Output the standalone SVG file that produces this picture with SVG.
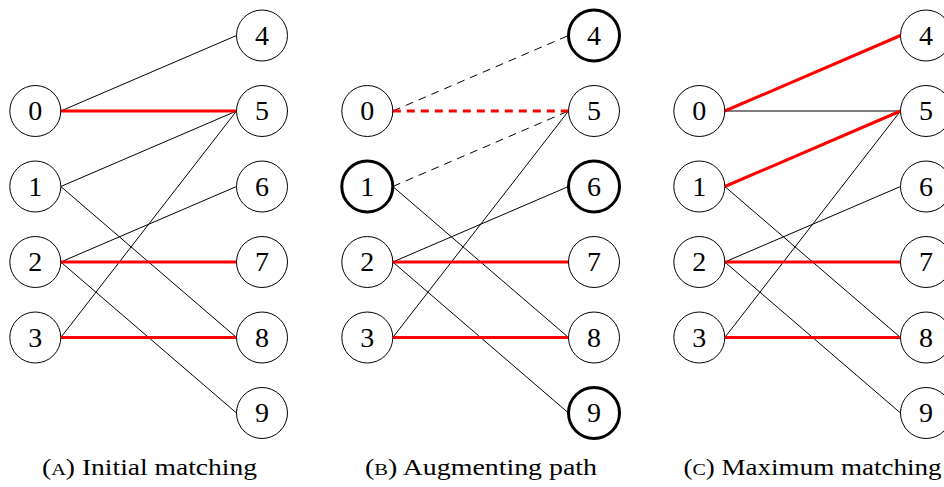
<svg xmlns="http://www.w3.org/2000/svg" width="944" height="487" viewBox="0 0 944 487">
<defs>
<style>
.bg{fill:#ffffff}
.e{stroke:#000;stroke-width:1;fill:none}
.m{stroke:#ff0000;stroke-width:3;fill:none}
.d{stroke-dasharray:8 6}
.n circle{fill:#fff;stroke:#000;stroke-width:1}
.n.t circle{stroke-width:3}
.n text{font-family:"Liberation Serif","DejaVu Serif",serif;font-size:28px;text-anchor:middle;fill:#000}
.cap{font-family:"Liberation Serif","DejaVu Serif",serif;font-size:23px;text-anchor:middle;fill:#000}
.sc{font-size:17px}
</style>
</defs>
<rect class="bg" x="0" y="0" width="944" height="487"/>

<!-- Panel A -->
<g id="panelA">
<g id="A-edges">
<line class="e" x1="60.8" y1="111" x2="236.5" y2="35.5"/>
<line class="e" x1="60.8" y1="186.5" x2="236.5" y2="111"/>
<line class="e" x1="60.8" y1="186.5" x2="236.5" y2="337.5"/>
<line class="e" x1="60.8" y1="262" x2="236.5" y2="186.5"/>
<line class="e" x1="60.8" y1="262" x2="236.5" y2="413"/>
<line class="e" x1="60.8" y1="337.5" x2="236.5" y2="111"/>
<line class="m" x1="60.8" y1="111" x2="236.5" y2="111"/>
<line class="m" x1="60.8" y1="262" x2="236.5" y2="262"/>
<line class="m" x1="60.8" y1="337.5" x2="236.5" y2="337.5"/>
</g>
<g id="A0" class="n"><circle cx="35.3" cy="111" r="25.5"/><text x="35.3" y="120.3">0</text></g>
<g id="A1" class="n"><circle cx="35.3" cy="186.5" r="25.5"/><text x="35.3" y="195.8">1</text></g>
<g id="A2" class="n"><circle cx="35.3" cy="262" r="25.5"/><text x="35.3" y="271.3">2</text></g>
<g id="A3" class="n"><circle cx="35.3" cy="337.5" r="25.5"/><text x="35.3" y="346.8">3</text></g>
<g id="A4" class="n"><circle cx="262" cy="35.5" r="25.5"/><text x="262" y="44.8">4</text></g>
<g id="A5" class="n"><circle cx="262" cy="111" r="25.5"/><text x="262" y="120.3">5</text></g>
<g id="A6" class="n"><circle cx="262" cy="186.5" r="25.5"/><text x="262" y="195.8">6</text></g>
<g id="A7" class="n"><circle cx="262" cy="262" r="25.5"/><text x="262" y="271.3">7</text></g>
<g id="A8" class="n"><circle cx="262" cy="337.5" r="25.5"/><text x="262" y="346.8">8</text></g>
<g id="A9" class="n"><circle cx="262" cy="413" r="25.5"/><text x="262" y="422.3">9</text></g>
<text class="cap" x="149.5" y="475" textLength="215" lengthAdjust="spacingAndGlyphs">(<tspan class="sc">A</tspan>) Initial matching</text>
</g>

<!-- Panel B -->
<g id="panelB" transform="translate(332,0)">
<g id="B-edges">
<line class="e d" x1="60.8" y1="111" x2="236.5" y2="35.5"/>
<line class="e d" x1="60.8" y1="186.5" x2="236.5" y2="111"/>
<line class="e" x1="60.8" y1="186.5" x2="236.5" y2="337.5"/>
<line class="e" x1="60.8" y1="262" x2="236.5" y2="186.5"/>
<line class="e" x1="60.8" y1="262" x2="236.5" y2="413"/>
<line class="e" x1="60.8" y1="337.5" x2="236.5" y2="111"/>
<line class="m d" x1="60.8" y1="111" x2="236.5" y2="111"/>
<line class="m" x1="60.8" y1="262" x2="236.5" y2="262"/>
<line class="m" x1="60.8" y1="337.5" x2="236.5" y2="337.5"/>
</g>
<g id="B0" class="n"><circle cx="35.3" cy="111" r="25.5"/><text x="35.3" y="120.3">0</text></g>
<g id="B1" class="n t"><circle cx="35.3" cy="186.5" r="25.5"/><text x="35.3" y="195.8">1</text></g>
<g id="B2" class="n"><circle cx="35.3" cy="262" r="25.5"/><text x="35.3" y="271.3">2</text></g>
<g id="B3" class="n"><circle cx="35.3" cy="337.5" r="25.5"/><text x="35.3" y="346.8">3</text></g>
<g id="B4" class="n t"><circle cx="262" cy="35.5" r="25.5"/><text x="262" y="44.8">4</text></g>
<g id="B5" class="n"><circle cx="262" cy="111" r="25.5"/><text x="262" y="120.3">5</text></g>
<g id="B6" class="n t"><circle cx="262" cy="186.5" r="25.5"/><text x="262" y="195.8">6</text></g>
<g id="B7" class="n"><circle cx="262" cy="262" r="25.5"/><text x="262" y="271.3">7</text></g>
<g id="B8" class="n"><circle cx="262" cy="337.5" r="25.5"/><text x="262" y="346.8">8</text></g>
<g id="B9" class="n t"><circle cx="262" cy="413" r="25.5"/><text x="262" y="422.3">9</text></g>
<text class="cap" x="149" y="475" textLength="232" lengthAdjust="spacingAndGlyphs">(<tspan class="sc">B</tspan>) Augmenting path</text>
</g>

<!-- Panel C -->
<g id="panelC" transform="translate(664,0)">
<g id="C-edges">
<line class="e" x1="60.8" y1="111" x2="236.5" y2="111"/>
<line class="e" x1="60.8" y1="186.5" x2="236.5" y2="337.5"/>
<line class="e" x1="60.8" y1="262" x2="236.5" y2="186.5"/>
<line class="e" x1="60.8" y1="262" x2="236.5" y2="413"/>
<line class="e" x1="60.8" y1="337.5" x2="236.5" y2="111"/>
<line class="m" x1="60.8" y1="111" x2="236.5" y2="35.5"/>
<line class="m" x1="60.8" y1="186.5" x2="236.5" y2="111"/>
<line class="m" x1="60.8" y1="262" x2="236.5" y2="262"/>
<line class="m" x1="60.8" y1="337.5" x2="236.5" y2="337.5"/>
</g>
<g id="C0" class="n"><circle cx="35.3" cy="111" r="25.5"/><text x="35.3" y="120.3">0</text></g>
<g id="C1" class="n"><circle cx="35.3" cy="186.5" r="25.5"/><text x="35.3" y="195.8">1</text></g>
<g id="C2" class="n"><circle cx="35.3" cy="262" r="25.5"/><text x="35.3" y="271.3">2</text></g>
<g id="C3" class="n"><circle cx="35.3" cy="337.5" r="25.5"/><text x="35.3" y="346.8">3</text></g>
<g id="C4" class="n"><circle cx="262" cy="35.5" r="25.5"/><text x="262" y="44.8">4</text></g>
<g id="C5" class="n"><circle cx="262" cy="111" r="25.5"/><text x="262" y="120.3">5</text></g>
<g id="C6" class="n"><circle cx="262" cy="186.5" r="25.5"/><text x="262" y="195.8">6</text></g>
<g id="C7" class="n"><circle cx="262" cy="262" r="25.5"/><text x="262" y="271.3">7</text></g>
<g id="C8" class="n"><circle cx="262" cy="337.5" r="25.5"/><text x="262" y="346.8">8</text></g>
<g id="C9" class="n"><circle cx="262" cy="413" r="25.5"/><text x="262" y="422.3">9</text></g>
<text class="cap" x="148.5" y="475" textLength="258" lengthAdjust="spacingAndGlyphs">(<tspan class="sc">C</tspan>) Maximum matching</text>
</g>
</svg>
